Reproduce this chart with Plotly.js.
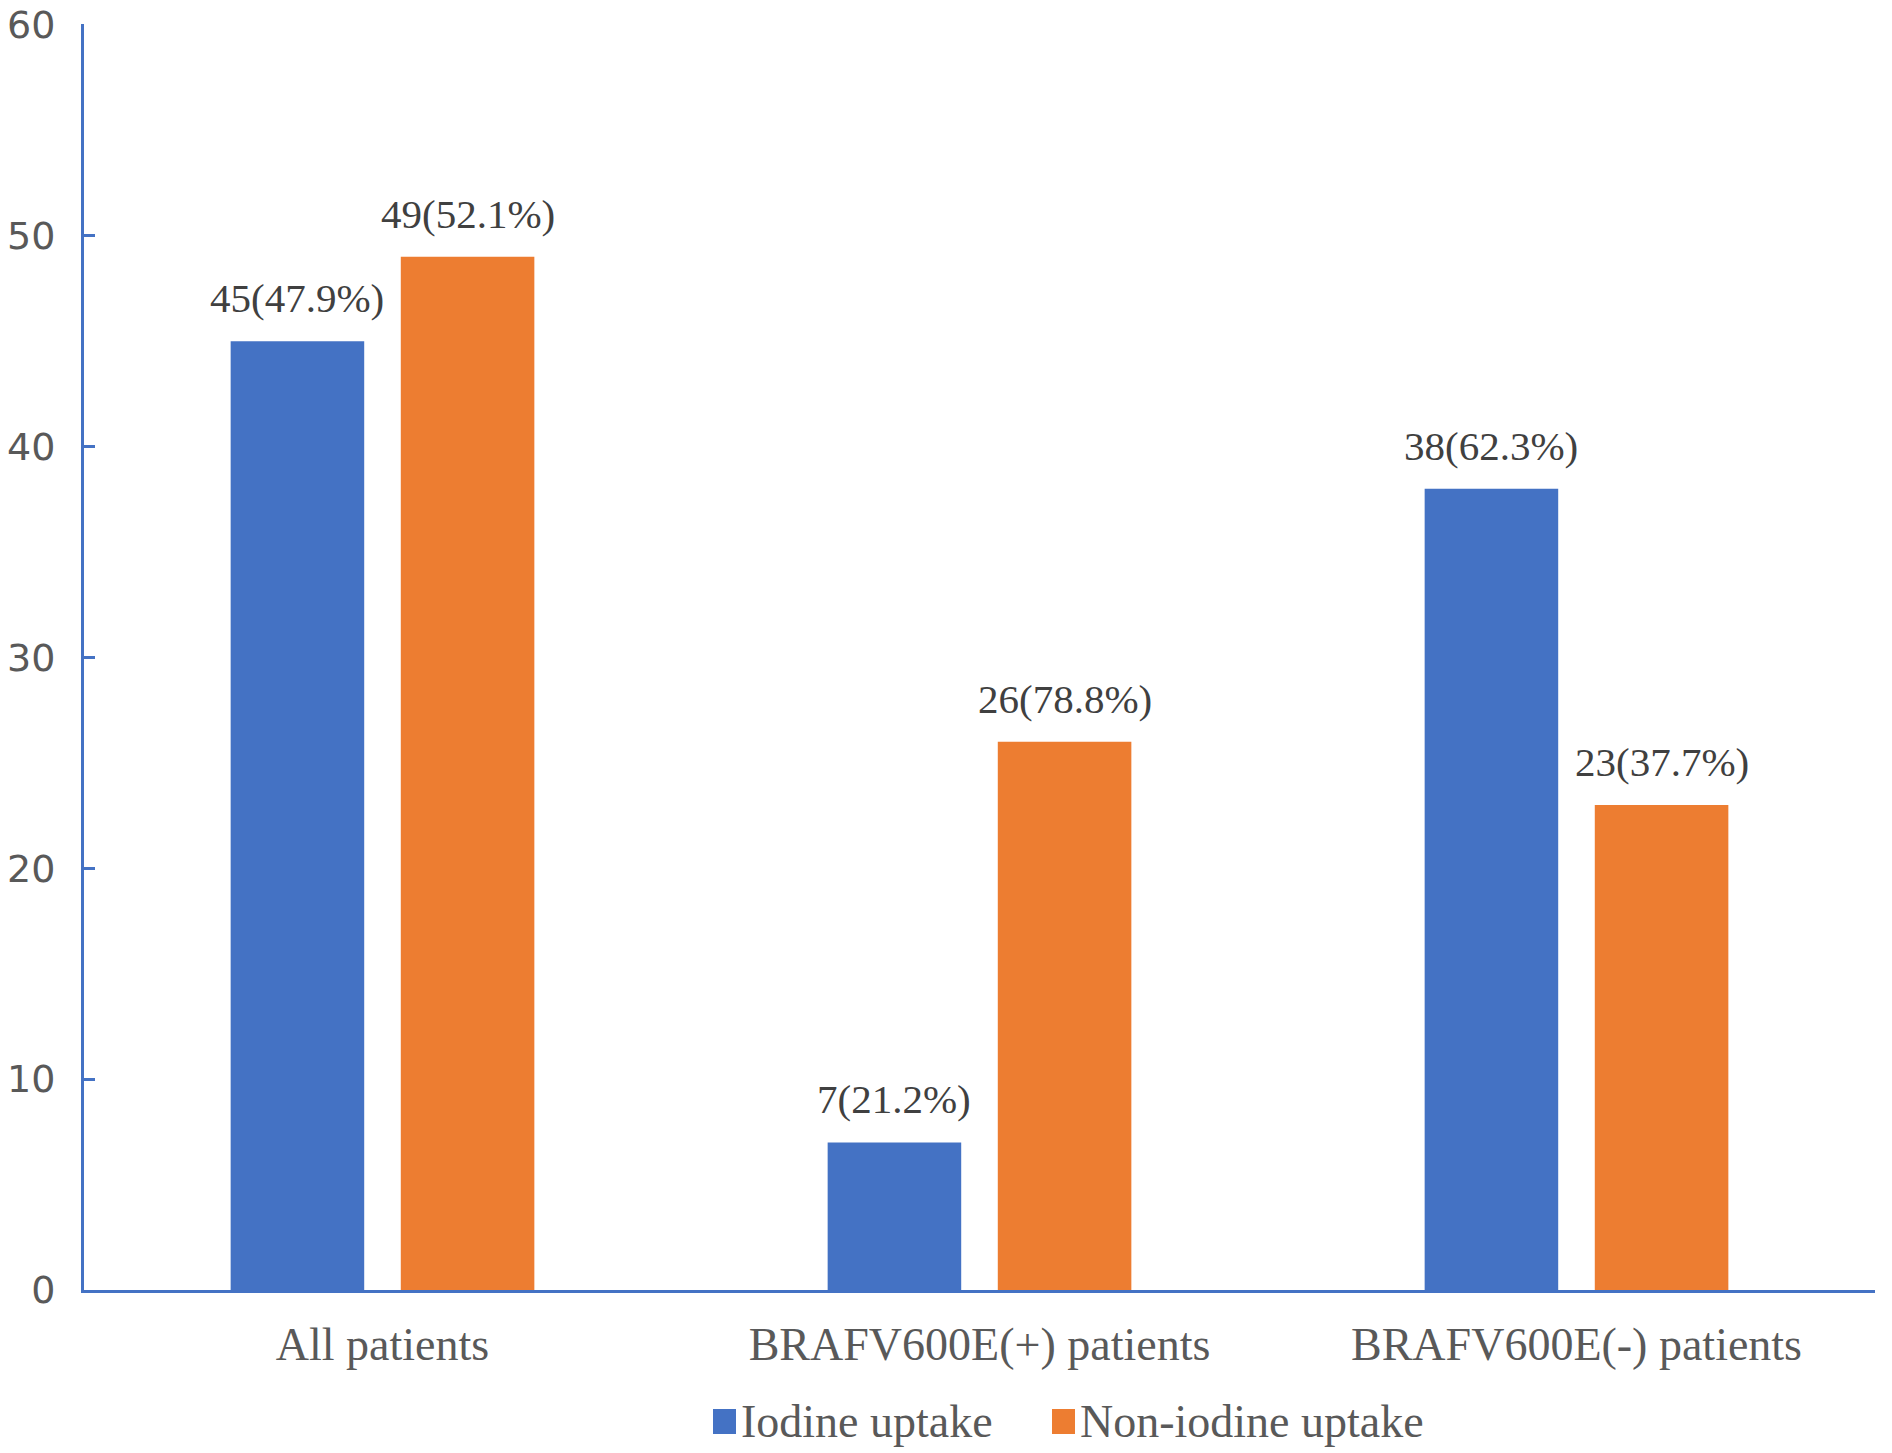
<!DOCTYPE html>
<html>
<head>
<meta charset="utf-8">
<script src="https://cdn.plot.ly/plotly-3.0.1.min.js"></script>
<style>
  html, body { margin: 0; padding: 0; background: #ffffff; }
  #chart { width: 1892px; height: 1453px; }
</style>
</head>
<body>
<div id="chart"></div>
<script>
// categories and values
const groups = ["All patients", "BRAFV600E(+) patients", "BRAFV600E(-) patients"];
const iodineCount = [45, 7, 38];
const iodinePct = [47.9, 21.2, 62.3];
const nonIodineCount = [49, 26, 23];
const nonIodinePct = [52.1, 78.8, 37.7];
const seriesNames = ["Iodine uptake", "Non-iodine uptake"];
const yTicks = [0, 10, 20, 30, 40, 50, 60];

const BLUE = "#4472C4";
const ORANGE = "#ED7D31";
const W = 1892, H = 1453;
const M = { l: 84, r: 17, t: 24, b: 163 };
const BARGAP = 0.43;
const GROUPGAP = 0.215;

// pixel offset of each bar from its category centre
const catPx = (W - M.l - M.r) / groups.length;
const slotPx = catPx * (1 - BARGAP) / 2;

const label = (n, p) => n + "(" + p.toFixed(1) + "%)";

const traces = [
  {
    type: "bar",
    name: seriesNames[0],
    x: groups,
    y: iodineCount,
    marker: { color: BLUE },
    hoverinfo: "skip",
    showlegend: false
  },
  {
    type: "bar",
    name: seriesNames[1],
    x: groups,
    y: nonIodineCount,
    marker: { color: ORANGE },
    hoverinfo: "skip",
    showlegend: false
  }
];

const annotations = [];
const labelFont = { family: "Liberation Serif, Times New Roman, serif", size: 41, color: "#404040" };
groups.forEach((g, i) => {
  annotations.push({
    x: g, y: iodineCount[i], xref: "x", yref: "y",
    xshift: -slotPx / 2, yshift: 18,
    text: label(iodineCount[i], iodinePct[i]),
    showarrow: false, yanchor: "bottom", xanchor: "center",
    font: labelFont
  });
  annotations.push({
    x: g, y: nonIodineCount[i], xref: "x", yref: "y",
    xshift: slotPx / 2, yshift: 18,
    text: label(nonIodineCount[i], nonIodinePct[i]),
    showarrow: false, yanchor: "bottom", xanchor: "center",
    font: labelFont
  });
});

// legend drawn by hand so the swatches can be as big as in the original
const plotW = W - M.l - M.r, plotH = H - M.t - M.b;
const px2x = (px) => (px - M.l) / plotW;
const px2y = (py) => (H - M.b - py) / plotH;
const legendFont = { family: "Liberation Serif, Times New Roman, serif", size: 46, color: "#595959" };
const legendItems = [
  { color: BLUE, text: seriesNames[0], x0: 713 },
  { color: ORANGE, text: seriesNames[1], x0: 1052 }
];
const shapes = [];
legendItems.forEach((it) => {
  shapes.push({
    type: "rect", xref: "paper", yref: "paper",
    x0: px2x(it.x0), x1: px2x(it.x0 + 23),
    y0: px2y(1434), y1: px2y(1409),
    fillcolor: it.color, line: { width: 0 }
  });
  annotations.push({
    xref: "paper", yref: "paper",
    x: px2x(it.x0 + 26), y: px2y(1421),
    xanchor: "left", yanchor: "middle",
    text: it.text, showarrow: false, font: legendFont
  });
});

const layout = {
  width: W,
  height: H,
  margin: M,
  paper_bgcolor: "#ffffff",
  plot_bgcolor: "#ffffff",
  barmode: "group",
  bargap: BARGAP,
  bargroupgap: GROUPGAP,
  showlegend: false,
  xaxis: {
    type: "category",
    showline: true,
    linecolor: BLUE,
    linewidth: 3,
    ticks: "",
    showgrid: false,
    zeroline: false,
    ticklabelstandoff: 12,
    tickfont: { family: "Liberation Serif, Times New Roman, serif", size: 46, color: "#595959" }
  },
  yaxis: {
    range: [0, 60.04],
    tickvals: yTicks,
    ticktext: yTicks.map(String),
    showline: true,
    linecolor: BLUE,
    linewidth: 3,
    ticks: "inside",
    ticklen: 11,
    tickwidth: 3,
    tickcolor: BLUE,
    showgrid: false,
    zeroline: false,
    ticklabelstandoff: 18,
    ticklabeloverflow: "allow",
    tickfont: { family: "DejaVu Sans, Noto Sans, sans-serif", size: 38, color: "#595959" }
  },
  annotations: annotations,
  shapes: shapes
};

Plotly.newPlot("chart", traces, layout, { displayModeBar: false, staticPlot: true });
</script>
</body>
</html>
